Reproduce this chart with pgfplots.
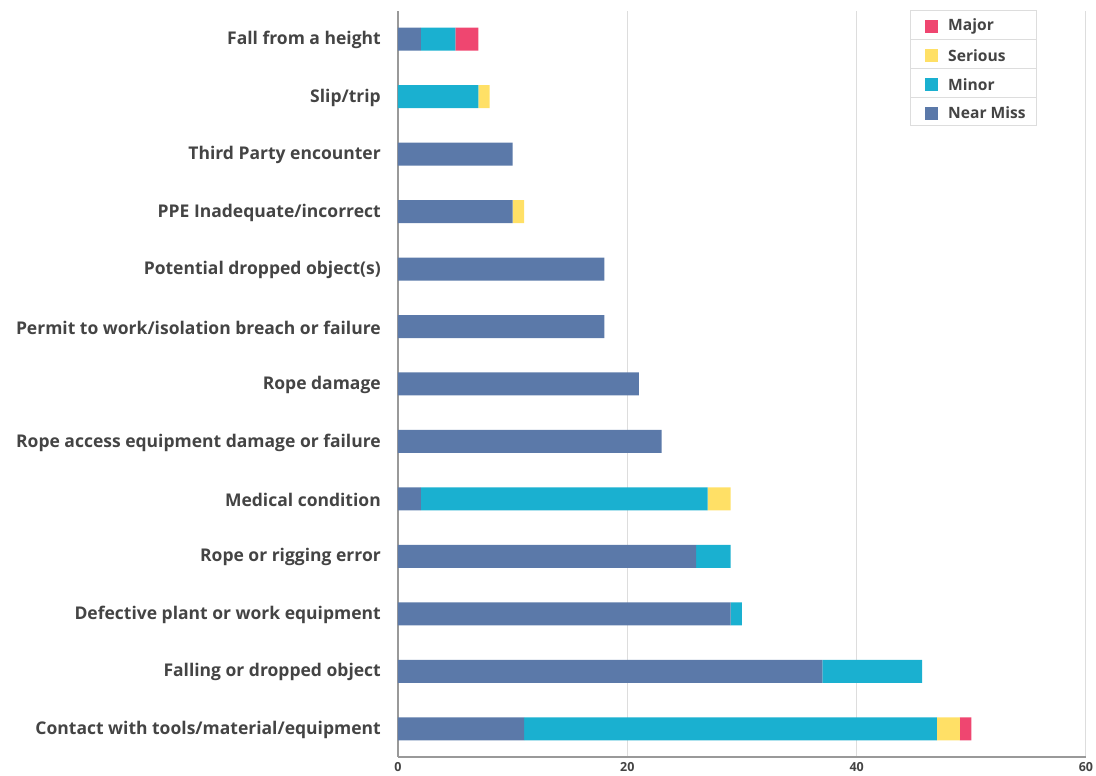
\documentclass[border=0pt]{standalone}
\usepackage{pgfplots}
\pgfplotsset{compat=1.18}
\usepackage{fontspec}
\setmainfont{Open Sans}
\definecolor{cNear}{HTML}{5B79A9}
\definecolor{cMinor}{HTML}{1AB0D0}
\definecolor{cSerious}{HTML}{FFE066}
\definecolor{cMajor}{HTML}{EF4670}
\definecolor{cText}{HTML}{444444}
\definecolor{cGrid}{HTML}{DDDDDD}
\definecolor{cAxis}{HTML}{999999}
\begin{document}
\begin{tikzpicture}[x=1pt,y=1pt]
\path[use as bounding box] (-398,-19) rectangle (698,757);
\begin{axis}[
  at={(0,0)}, anchor=south west,
  scale only axis, width=688pt, height=746pt,
  xbar stacked, bar width=23pt,
  xmin=0, xmax=60, ymin=-0.49, ymax=12.49,
  xtick={0,20,40,60},
  ytick={0,...,12},
  yticklabels={Contact with tools/material/equipment, Falling or dropped object, Defective plant or work equipment, Rope or rigging error, Medical condition, Rope access equipment damage or failure, Rope damage, Permit to work/isolation breach or failure, Potential dropped object(s), PPE Inadequate/incorrect, Third Party encounter, Slip/trip, Fall from a height},
  axis lines*=left,
  axis line style={cAxis, line width=2pt},
  xmajorgrids, grid style={cGrid, line width=1pt},
  major tick length=0pt,
  tick label style={text=cText, font=\bfseries},
  yticklabel style={font=\fontsize{17.5}{20}\selectfont\bfseries, inner sep=0pt, xshift=-17pt, yshift=-1pt},
  xticklabel style={font=\fontsize{12.5}{14}\selectfont\bfseries, inner sep=0pt, yshift=-5pt},
  /pgf/number format/assume math mode=true,
]
\addplot[fill=cNear, draw=none] coordinates {(11,0) (37,1) (29,2) (26,3) (2,4) (23,5) (21,6) (18,7) (18,8) (10,9) (10,10) (0,11) (2,12)};
\addplot[fill=cMinor, draw=none] coordinates {(36,0) (8.7,1) (1,2) (3,3) (25,4) (0,5) (0,6) (0,7) (0,8) (0,9) (0,10) (7,11) (3,12)};
\addplot[fill=cSerious, draw=none] coordinates {(2,0) (0,1) (0,2) (0,3) (2,4) (0,5) (0,6) (0,7) (0,8) (1,9) (0,10) (1,11) (0,12)};
\addplot[fill=cMajor, draw=none] coordinates {(1,0) (0,1) (0,2) (0,3) (0,4) (0,5) (0,6) (0,7) (0,8) (0,9) (0,10) (0,11) (2,12)};
\end{axis}
% legend (pixel (px,py) -> (px-398, 757-py))
\begin{scope}[font=\fontsize{15.6}{18}\selectfont\bfseries]
\fill[white] (512,631) rectangle (638,746);
\foreach \i/\c/\t in {0/cMajor/Major,1/cSerious/Serious,2/cMinor/Minor,3/cNear/Near Miss}{
  \pgfmathsetmacro{\yc}{746-28.75*\i-15.8}
  \fill[\c] (527,\yc-6.5) rectangle (540,\yc+6.5);
  \node[anchor=west, inner sep=0pt, text=cText] at (550,\yc) {\t};
}
\foreach \i in {1,2,3}{
  \draw[cGrid, line width=1pt] (512,746-28.75*\i) -- (638,746-28.75*\i);
}
\draw[cGrid, line width=1pt] (512,631) rectangle (638,746);
\end{scope}
\end{tikzpicture}
\end{document}
